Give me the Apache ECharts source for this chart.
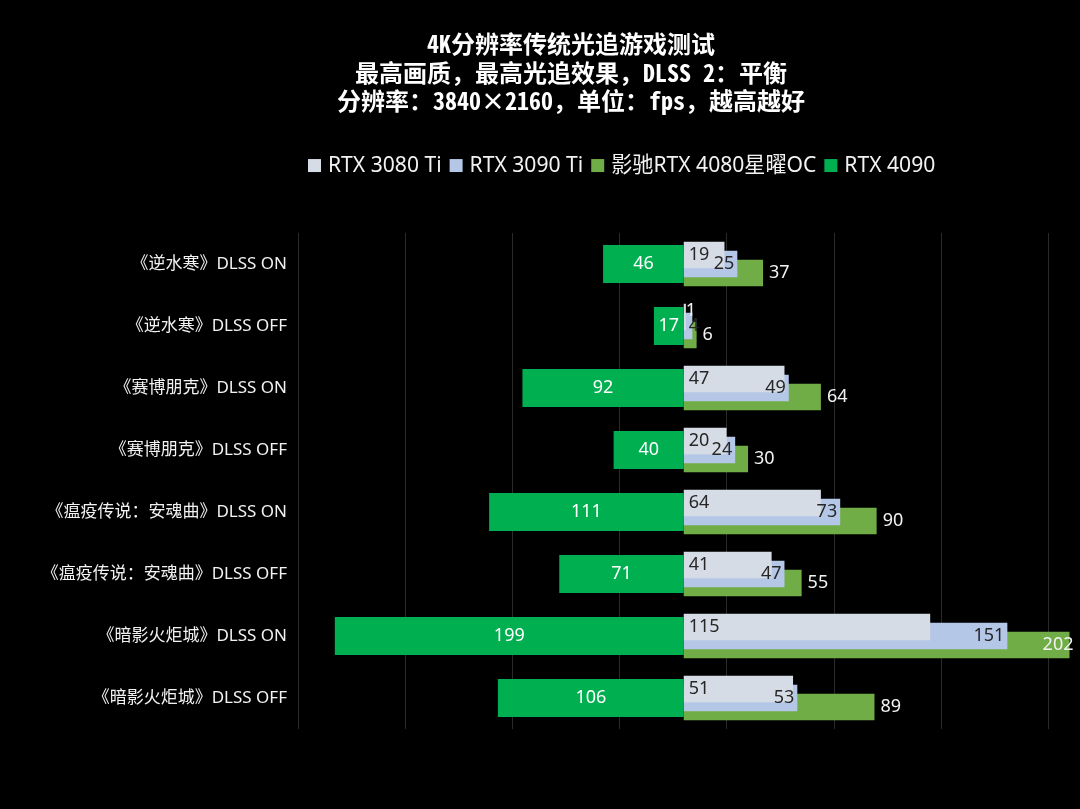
<!DOCTYPE html>
<html>
<head>
<meta charset="utf-8">
<script src="https://cdn.jsdelivr.net/npm/echarts@6/dist/echarts.min.js"></script>
<style>
html,body{margin:0;padding:0;background:#000;}
#c{width:1080px;height:809px;}
</style>
</head>
<body>
<div id="c"></div>
<script>
const titleLines = ['4K分辨率传统光追游戏测试', '最高画质，最高光追效果，DLSS 2：平衡', '分辨率：3840×2160，单位：fps，越高越好'];
const seriesNames = ['RTX 3080 Ti', 'RTX 3090 Ti', '影驰RTX 4080星曜OC', 'RTX 4090'];
const categories = [
  '《逆水寒》DLSS ON', '《逆水寒》DLSS OFF',
  '《赛博朋克》DLSS ON', '《赛博朋克》DLSS OFF',
  '《瘟疫传说：安魂曲》DLSS ON', '《瘟疫传说：安魂曲》DLSS OFF',
  '《暗影火炬城》DLSS ON', '《暗影火炬城》DLSS OFF'
];
const rtx3080ti = [19, 1, 47, 20, 64, 41, 115, 51];
const rtx3090ti = [25, 4, 49, 24, 73, 47, 151, 53];
const rtx4080 = [37, 6, 64, 30, 90, 55, 202, 89];
const rtx4090 = [46, 17, 92, 40, 111, 71, 199, 106];

const mainMin = -180, mainMax = 180;
const sideMin = -220, sideMax = 220;

const LATIN = '"Noto Sans", "Noto Sans CJK SC", sans-serif';
const colors = ['#d6dce5', '#b4c7e7', '#70ad47', '#00b050'];
const darkText = '#262626', lightText = '#f2f2f2';

const chart = echarts.init(document.getElementById('c'), null, {renderer: 'canvas'});

const barW = 26.5;
const gap = '-134%';

const option = {
  backgroundColor: '#000',
  animation: false,
  title: {
    text: titleLines.join('\n'),
    left: 571, top: 30, textAlign: 'center', padding: 0,
    textStyle: {
      color: '#ffffff', fontSize: 24, fontWeight: 'bold', lineHeight: 28.5,
      fontFamily: '"Noto Sans Mono CJK SC", "Noto Sans CJK SC", sans-serif'
    }
  },
  legend: {
    data: seriesNames,
    left: 308, top: 155, padding: 0,
    itemWidth: 13, itemHeight: 13, itemGap: 8, icon: 'rect',
    textStyle: {color: lightText, fontSize: 21.1, fontFamily: LATIN, padding: [0, 0, 0, 2]}
  },
  grid: {left: 298, right: 10.5, top: 233, bottom: 80},
  xAxis: [
    {type: 'value', min: mainMin, max: mainMax, show: false},
    {type: 'value', min: sideMin, max: sideMax, inverse: true, show: false},
    {type: 'value', min: 0, max: mainMax - mainMin, interval: 50,
     axisLine: {show: false}, axisTick: {show: false}, axisLabel: {show: false},
     splitLine: {show: true, showMinLine: true, showMaxLine: false, lineStyle: {color: '#2a2a2a', width: 1}}}
  ],
  yAxis: [
    {type: 'category', data: categories, inverse: true,
     axisLine: {show: false}, axisTick: {show: false}, splitLine: {show: false},
     axisLabel: {color: lightText, fontSize: 17, margin: 11, fontFamily: LATIN}},
    {type: 'category', data: categories, inverse: true, show: false}
  ],
  series: [
    {
      name: seriesNames[2], type: 'bar', xAxisIndex: 0, yAxisIndex: 0,
      barWidth: barW, barGap: gap,
      itemStyle: {color: colors[2]},
      data: rtx4080.map(v => v > mainMax ? {value: v, label: {position: 'insideRight', distance: -4}} : v),
      label: {show: true, position: 'right', distance: 6, color: lightText, fontSize: 18, fontFamily: LATIN}
    },
    {
      name: seriesNames[1], type: 'bar', xAxisIndex: 0, yAxisIndex: 0,
      barWidth: barW, barGap: gap,
      itemStyle: {color: colors[1]},
      data: rtx3090ti.map(v => v < 10 ? {value: v, label: {position: 'insideLeft', distance: 5}} : v),
      label: {show: true, position: 'insideRight', distance: 3, color: darkText, fontSize: 18, fontFamily: LATIN}
    },
    {
      name: seriesNames[0], type: 'bar', xAxisIndex: 0, yAxisIndex: 0,
      barWidth: barW, barGap: gap,
      itemStyle: {color: colors[0]},
      data: rtx3080ti.map(v => v < 5 ? {value: v, label: {position: 'insideLeft', distance: 2, offset: [0, -6], color: lightText}} : v),
      label: {show: true, position: 'insideLeft', distance: 5, color: darkText, fontSize: 18, fontFamily: LATIN}
    },
    {
      name: seriesNames[3], type: 'bar', xAxisIndex: 1, yAxisIndex: 1,
      barWidth: 38,
      itemStyle: {color: colors[3]},
      data: rtx4090,
      label: {show: true, position: 'inside', color: '#ffffff', fontSize: 18, fontFamily: LATIN}
    }
  ]
};
chart.setOption(option);
</script>
</body>
</html>
